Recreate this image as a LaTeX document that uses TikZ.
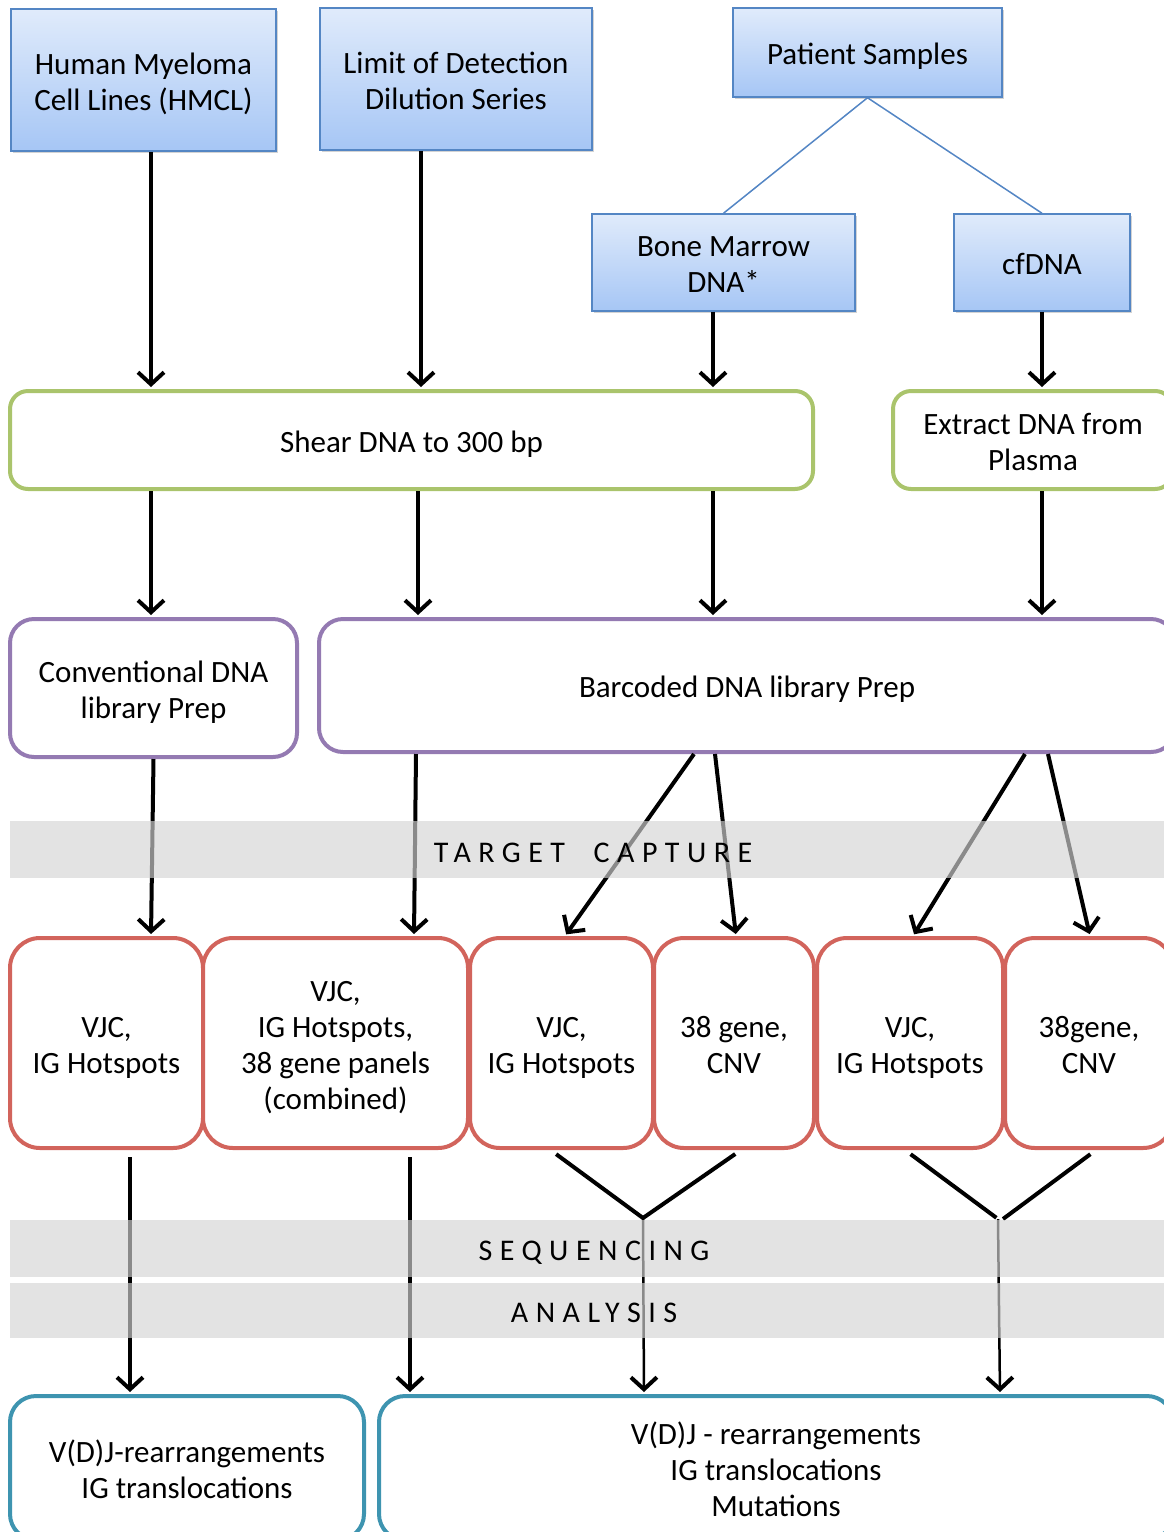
\documentclass[tikz,border=0pt]{standalone}
\usepackage{fontspec}
\setmainfont{Carlito}
\newfontfamily\bandfont[LetterSpace=25]{Carlito}
\usetikzlibrary{arrows.meta,shadows}

\definecolor{sampleline}{RGB}{84,134,196}
\definecolor{sampletop}{RGB}{224,235,251}
\definecolor{samplebot}{RGB}{166,198,245}
\definecolor{shearline}{RGB}{170,196,108}
\definecolor{libline}{RGB}{148,122,178}
\definecolor{panelline}{RGB}{210,100,92}
\definecolor{resultline}{RGB}{62,148,176}
\definecolor{bandgrey}{RGB}{212,212,212}

\tikzset{
  every node/.style={font=\fontsize{31}{36}\selectfont, align=center, inner sep=0pt,
    text height=32pt, text depth=8pt},
  twolines/.style={text height=68pt},
  threelines/.style={text height=104pt},
  fourlines/.style={text height=140pt},
  sample/.style={draw=sampleline, line width=1.5pt, top color=sampletop, bottom color=samplebot,
    drop shadow={opacity=0.35, shadow xshift=2pt, shadow yshift=-2pt}},
  shearbox/.style={draw=shearline, line width=4pt, rounded corners=18pt, fill=white},
  libbox/.style={draw=libline, line width=4pt, rounded corners=24pt, fill=white},
  panelbox/.style={draw=panelline, line width=4pt, rounded corners=30pt, fill=white,
    minimum height=210pt},
  resultbox/.style={draw=resultline, line width=4pt, rounded corners=26pt, fill=white,
    minimum height=144pt},
  band/.style={fill=bandgrey, fill opacity=0.65, minimum width=1154pt},
  bandtext/.style={font=\fontsize{30}{36}\bandfont},
  flow/.style={line width=4pt, -{Straight Barb[length=12pt, width=26pt]}, shorten >=2pt},
  thinflow/.style={line width=2.5pt, -{Straight Barb[length=12pt, width=26pt, line width=4pt]}, shorten >=2pt},
  fork/.style={line width=4pt}
}

\begin{document}
\begin{tikzpicture}[x=1pt, y=-1pt]
  %%%%% START %%%%%
  \useasboundingbox (0,0) rectangle (1164,1532);

  % samples
  \node[sample, twolines, minimum width=265pt, minimum height=142pt] (hmcl) at (143.5,80) {Human Myeloma\\Cell Lines (HMCL)};
  \node[sample, twolines, minimum width=272pt, minimum height=142pt] (lod) at (456,79) {Limit of Detection\\Dilution Series};
  \node[sample, minimum width=269pt, minimum height=89pt] (patient) at (867.5,52.5) {Patient Samples};
  \node[sample, twolines, minimum width=263pt, minimum height=97pt] (marrow) at (723.5,262.5) {Bone Marrow\\DNA*};
  \node[sample, minimum width=176pt, minimum height=97pt] (cfdna) at (1042,262.5) {cfDNA};

  \draw[sampleline, line width=1.5pt] (patient.south) -- (marrow.north);
  \draw[sampleline, line width=1.5pt] (patient.south) -- (cfdna.north);

  % DNA prep
  \node[shearbox, minimum width=803pt, minimum height=98pt] (shear) at (411.5,440) {Shear DNA to 300 bp};
  \node[shearbox, twolines, minimum width=280pt, minimum height=98pt] (extract) at (1033,440) {Extract DNA from\\Plasma};

  % library prep
  \node[libbox, twolines, minimum width=287pt, minimum height=138pt] (conv) at (153.5,688) {Conventional DNA\\library Prep};
  \node[libbox, minimum width=856pt, minimum height=133pt] (barcode) at (747,685.5) {Barcoded DNA library Prep};

  % capture panels
  \node[panelbox, twolines, minimum width=193pt] (b1) at (106.5,1043) {VJC,\\IG Hotspots};
  \node[panelbox, fourlines, minimum width=265pt] (b2) at (335.5,1043) {VJC,\\IG Hotspots,\\38 gene panels\\(combined)};
  \node[panelbox, twolines, minimum width=183pt] (b3) at (561.5,1043) {VJC,\\IG Hotspots};
  \node[panelbox, twolines, minimum width=160pt] (b4) at (734,1043) {38 gene,\\CNV};
  \node[panelbox, twolines, minimum width=186pt] (b5) at (910,1043) {VJC,\\IG Hotspots};
  \node[panelbox, twolines, minimum width=168pt] (b6) at (1089,1043) {38gene,\\CNV};

  % results
  \node[resultbox, twolines, minimum width=354pt] (r1) at (187,1468) {V(D)J-rearrangements\\IG translocations};
  \node[resultbox, threelines, minimum width=794pt] (r2) at (776,1468) {V(D)J - rearrangements\\IG translocations\\Mutations};

  % arrows
  \coordinate (hmclout) at ([xshift=7.5pt]hmcl.south);
  \coordinate (lodout) at ([xshift=-35pt]lod.south);
  \coordinate (marrowout) at ([xshift=-10.5pt]marrow.south);
  \draw[flow] (hmclout) -- (hmclout |- shear.north);
  \draw[flow] (lodout) -- (lodout |- shear.north);
  \draw[flow] (marrowout) -- (marrowout |- shear.north);
  \draw[flow] (cfdna.south) -- (extract.north -| cfdna.south);

  \draw[flow] (hmclout |- shear.south) -- (hmclout |- conv.north);
  \draw[flow] ([xshift=-3pt]lodout |- shear.south) -- ([xshift=-3pt]lodout |- barcode.north);
  \draw[flow] (marrowout |- shear.south) -- (marrowout |- barcode.north);
  \draw[flow] (cfdna.south |- extract.south) -- (cfdna.south |- barcode.north);

  \draw[flow] (conv.south) -- ([xshift=44.5pt]b1.north);
  \draw[flow] ([xshift=-331pt]barcode.south) -- ([xshift=78.5pt]b2.north);
  \draw[flow] ([xshift=-53pt]barcode.south) -- ([xshift=3.5pt]b3.north);
  \draw[flow] ([xshift=-32pt]barcode.south) -- ([xshift=2pt]b4.north);
  \draw[flow] ([xshift=278pt]barcode.south) -- ([xshift=3pt]b5.north);
  \draw[flow] ([xshift=301pt]barcode.south) -- ([xshift=1pt]b6.north);

  \draw[flow, shorten <=7pt] ([xshift=23.5pt]b1.south) -- ([xshift=-57pt]r1.north);
  \draw[flow, shorten <=7pt] ([xshift=74.5pt]b2.south) -- ([xshift=-366pt]r2.north);

  \coordinate (joinA) at (643,1218);
  \coordinate (joinB) at (998,1219);
  \draw[fork, shorten <=7pt] ([xshift=-11pt]b3.south) -- (joinA);
  \draw[fork, shorten <=7pt] ([xshift=7pt]b4.south) -- (joinA);
  \draw[thinflow] (joinA) -- ([xshift=-132pt]r2.north);
  \draw[fork, shorten <=7pt, shorten >=2pt] ([xshift=-5pt]b5.south) -- (joinB);
  \draw[fork, shorten <=7pt] ([xshift=7pt]b6.south) -- ([xshift=5pt]joinB);
  \draw[thinflow] (joinB) -- ([xshift=224pt]r2.north);

  % steps
  \node[band, minimum height=57pt] (capband) at (587,849.5) {};
  \node[band, minimum height=57pt] (seqband) at (587,1248.5) {};
  \node[band, minimum height=55pt] (anaband) at (587,1310.5) {};
  \node[bandtext] (captext) at (593,850) {TARGET\ \ CAPTURE};
  \node[bandtext] (seqtext) at (594,1248) {SEQUENCING};
  \node[bandtext] (anatext) at (594,1310) {ANALYSIS};
  %%%%% END %%%%%
\end{tikzpicture}
\end{document}
